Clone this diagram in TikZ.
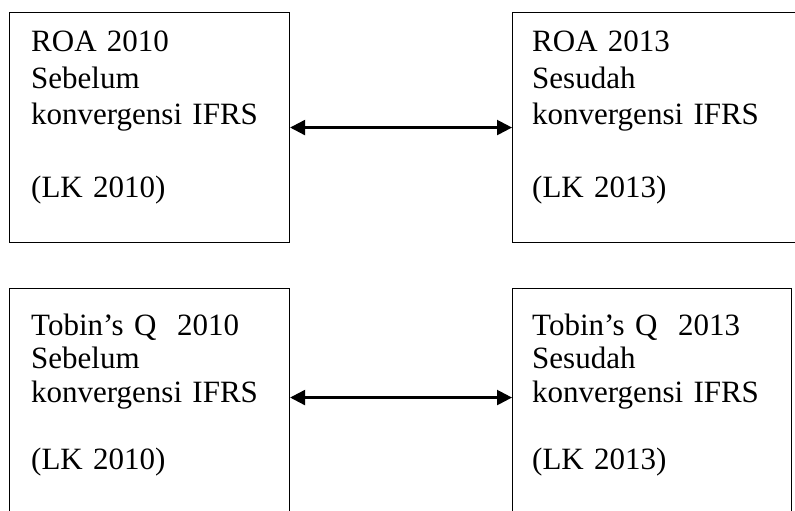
\documentclass[tikz,border=0pt]{standalone}
\usepackage{fontspec}
\setmainfont{Liberation Serif}
\usetikzlibrary{arrows.meta}
\begin{document}
\begin{tikzpicture}[x=1pt,y=-1pt,
  box/.style={draw, line width=1.1pt, inner sep=0pt, anchor=north west},
  lbl/.style={anchor=base west, inner sep=0pt, text width=260pt, align=left, font=\fontsize{31}{36.5}\selectfont},
  lblb/.style={anchor=base west, inner sep=0pt, text width=260pt, align=left, font=\fontsize{31}{33.5}\selectfont},
  link/.style={{Triangle[length=15pt,width=15pt]}-{Triangle[length=15pt,width=15pt]}, line width=2.3pt}]
\useasboundingbox (0,0) rectangle (795,511);
\clip (0,0) rectangle (795,511);
\node[box, minimum width=280pt, minimum height=230pt] (tl) at (9,12) {};
\node[box, minimum width=290pt, minimum height=230pt] (tr) at (512,12) {};
\node[box, minimum width=280pt, minimum height=230pt] (bl) at (9,288) {};
\node[box, minimum width=279pt, minimum height=230pt] (br) at (512,288) {};
\node[lbl] (tlt) at (31,52) {ROA 2010\\Sebelum\\konvergensi IFRS\\[36.5pt](LK 2010)};
\node[lbl] (trt) at (532,52) {ROA 2013\\Sesudah\\konvergensi IFRS\\[36.5pt](LK 2013)};
\node[lblb] (blt) at (31,335) {Tobin’s Q~~2010\\Sebelum\\konvergensi IFRS\\[33.5pt](LK 2010)};
\node[lblb] (brt) at (532,335) {Tobin’s Q~~2013\\Sesudah\\konvergensi IFRS\\[33.5pt](LK 2013)};
\draw[link] (tl.east) -- (tr.west);
\draw[link] ([yshift=6pt]bl.east) -- ([yshift=6pt]br.west);
\end{tikzpicture}
\end{document}
